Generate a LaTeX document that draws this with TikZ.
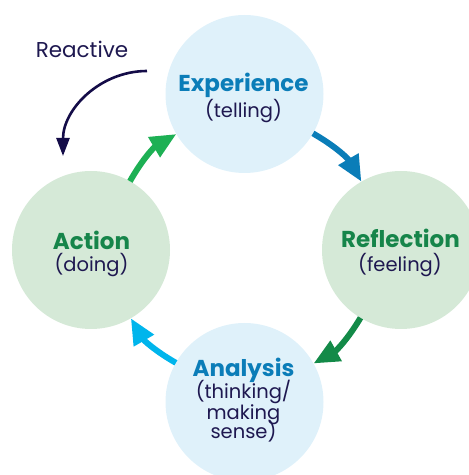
\documentclass[tikz,border=0pt]{standalone}
\usepackage{fontspec}
\setmainfont{Poppins}
\usetikzlibrary{arrows.meta}

\definecolor{skyfill}{HTML}{DFF1FA}
\definecolor{sagefill}{HTML}{D5E9D7}
\definecolor{titleblue}{HTML}{0B7DB8}
\definecolor{titlegreen}{HTML}{16854A}
\definecolor{navy}{HTML}{1E1850}
\definecolor{arrgreen}{HTML}{1DB054}
\definecolor{arrblue}{HTML}{0A7DB8}
\definecolor{arrdkgreen}{HTML}{138A48}
\definecolor{arrcyan}{HTML}{00B5EC}
\definecolor{arrnavy}{HTML}{140C48}

\begin{document}
\begin{tikzpicture}[x=1pt,y=1pt,
  stage/.style={circle,draw=none,minimum size=158pt,inner sep=0pt,outer sep=0pt},
  title/.style={anchor=base,inner sep=0pt,font=\fontsize{23}{25}\selectfont\bfseries},
  sub/.style={anchor=base,inner sep=0pt,text=navy,font=\fontsize{19.5}{21}\selectfont},
  cycle/.style={line width=6pt,-{Triangle[length=26pt,width=22pt]}},
  reactarrow/.style={line width=2.6pt,arrnavy,-{Triangle[length=18pt,width=13pt]}}
]
\useasboundingbox (0,0) rectangle (469,475);
\clip (0,0) rectangle (469,475);

% the four stages of the cycle
\node[stage,fill=skyfill]  (exp)  at (244.5,381) {};
\node[stage,fill=sagefill] (refl) at (401,225)   {};
\node[stage,fill=skyfill]  (ana)  at (244.5,73)  {};
\node[stage,fill=sagefill] (act)  at (91,225)    {};

% labels
\node[title,text=titleblue]  (expT)  at (243.5,383) {Experience};
\node[sub]                   (expS)  at (243.5,357) {(telling)};
\node[title,text=titlegreen] (reflT) at (400.5,227) {Reflection};
\node[sub]                   (reflS) at (400,203)   {(feeling)};
\node[title,text=titleblue]  (anaT)  at (243.5,98)  {Analysis};
\node[sub]                   (anaS1) at (243.5,76)  {(thinking/};
\node[sub]                   (anaS2) at (243.5,56)  {making};
\node[sub]                   (anaS3) at (243.5,36)  {sense)};
\node[title,text=titlegreen] (actT)  at (91.5,225)  {Action};
\node[sub]                   (actS)  at (91.5,203)  {(doing)};

% arrows between stages
\draw[cycle,arrgreen]   (act)  to[bend left=15] (exp);
\draw[cycle,arrblue]    (exp)  to[bend left=15] (refl);
\draw[cycle,arrdkgreen] (refl) to[bend left=15] (ana);
\draw[cycle,arrcyan]    (ana)  to[bend left=15] (act);

% reactive shortcut
\node[anchor=base,inner sep=0pt,text=navy,font=\fontsize{21.5}{23}\selectfont] (react) at (82,417) {Reactive};
\coordinate (rstart) at (147,404);
\coordinate (rend) at (63,319);
\draw[reactarrow] (rstart) to[out=180,in=90,looseness=1.0] (rend);
\end{tikzpicture}
\end{document}
